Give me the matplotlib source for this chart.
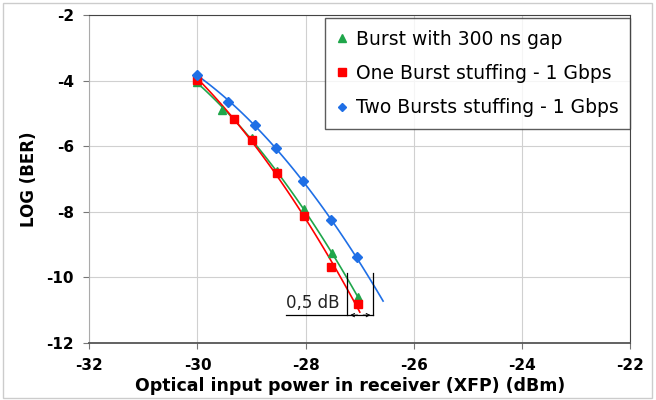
import numpy as np
import matplotlib
matplotlib.use('Agg')
from matplotlib import pyplot as plt
from matplotlib.patches import Rectangle

plt.rcParams['font.family'] = ['DejaVu Sans']
plt.rcParams['axes.unicode_minus'] = False

# data
x_gap = [-30.0, -29.54, -29.0, -28.53, -28.04, -27.52, -27.03]
y_gap = [-4.04, -4.90, -5.75, -6.76, -7.92, -9.27, -10.60]

x_one = [-30.0, -29.32, -29.0, -28.53, -28.04, -27.54, -27.04]
y_one = [-3.98, -5.17, -5.81, -6.82, -8.13, -9.68, -10.81]

x_two = [-30.0, -29.43, -28.94, -28.55, -28.05, -27.54, -27.06]
y_two = [-3.83, -4.65, -5.35, -6.05, -7.06, -8.25, -9.38]

labels = ['Burst with 300 ns gap', 'One Burst stuffing - 1 Gbps',
          'Two Bursts stuffing - 1 Gbps']
colors = ['#1fa64a', '#ff0000', '#1f6fe6']
markers = ['^', 's', 'D']
msizes = [6, 6, 5]
trend_end = [-27.0, -27.0, -26.57]

fig = plt.figure(figsize=(6.56, 4.0), dpi=100)
ax = fig.add_axes([0.136, 0.1425, 0.825, 0.82])

series = [(x_gap, y_gap), (x_one, y_one), (x_two, y_two)]
handles = []
for (xs, ys), lab, col, mk, ms, xe in zip(series, labels, colors, markers,
                                          msizes, trend_end):
    # excel style polynomial trendline
    p = np.polyfit(xs, ys, 2)
    xt = np.linspace(xs[0], xe, 60)
    ax.plot(xt, np.polyval(p, xt), color=col, lw=1.2, zorder=2)
    h = ax.plot(xs, ys, ls='none', marker=mk, ms=ms, color=col,
                mec=col, label=lab, zorder=3)[0]
    handles.append(h)

# 0,5 dB annotation
k = dict(color='black', lw=0.9, zorder=4)
ax.plot([-28.37, -26.75], [-11.15, -11.15], **k)
ax.plot([-27.23, -27.23], [-9.87, -11.15], **k)
ax.plot([-26.75, -26.75], [-9.87, -11.15], **k)
ax.annotate('', xy=(-27.23, -11.15), xytext=(-26.99, -11.15),
            arrowprops=dict(arrowstyle='->', lw=0.7, mutation_scale=6))
ax.annotate('', xy=(-26.75, -11.15), xytext=(-26.99, -11.15),
            arrowprops=dict(arrowstyle='->', lw=0.7, mutation_scale=6))
ax.text(-28.37, -10.78, '0,5 dB', fontsize=12, color='#222222',
        ha='left', va='center')

ax.set_xlim(-32, -22)
ax.set_ylim(-12, -2)
ax.set_xticks(np.arange(-32, -21, 2))
ax.set_yticks(np.arange(-12, -1, 2))
ax.grid(True, color='#d0d0d0', lw=0.8)
ax.set_axisbelow(True)
ax.spines['left'].set_color('#aaaaaa')
ax.spines['right'].set_color('#444444')
ax.spines['top'].set_color('#444444')
ax.spines['bottom'].set_color('#555555')
ax.spines['bottom'].set_linewidth(1.3)
ax.tick_params(direction='out', length=4, color='#777777', pad=7)
for t in ax.get_xticklabels() + ax.get_yticklabels():
    t.set_fontweight('bold')
    t.set_fontsize(11)

ax.set_xlabel('Optical input power in receiver (XFP) (dBm)',
              fontsize=12.5, fontweight='bold')
ax.xaxis.set_label_coords(0.482, -0.105)
ax.set_ylabel('LOG (BER)', fontsize=12, fontweight='bold', labelpad=6)

leg = ax.legend(handles=handles, loc='upper right',
                bbox_to_anchor=(1.0, 0.99), fontsize=13.5, frameon=True,
                fancybox=False, handlelength=0.6, handletextpad=0.45,
                borderpad=0.6, labelspacing=0.82, markerscale=0.85,
                borderaxespad=0)
leg.get_frame().set_edgecolor('#333333')
leg.get_frame().set_linewidth(1.0)

fig.patches.append(Rectangle((0.004, 0.006), 0.99, 0.986,
                             transform=fig.transFigure, fill=False,
                             edgecolor='#cccccc', lw=1.0))

fig.savefig('out.png', dpi=100)
